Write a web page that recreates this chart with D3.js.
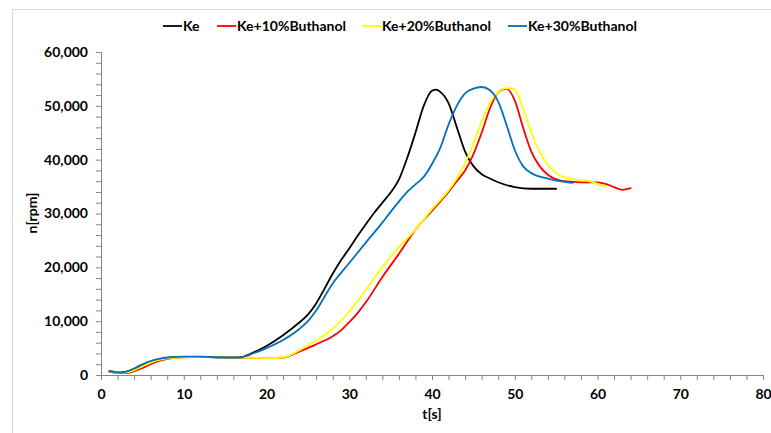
<!DOCTYPE html>
<html>
<head>
<meta charset="utf-8">
<script src="https://cdn.jsdelivr.net/npm/d3@7/dist/d3.min.js"></script>
<style>
html,body{margin:0;padding:0;background:#fff;}
svg{display:block;}
text{font-family:Lato,"Open Sans",sans-serif;font-weight:bold;fill:#000;}
</style>
</head>
<body>
<svg id="chart" width="771" height="433"></svg>
<script>
const seriesNames = ["Ke", "Ke+10%Buthanol", "Ke+20%Buthanol", "Ke+30%Buthanol"];
const seriesColors = ["#000000", "#ff0000", "#ffff00", "#0070c0"];

const keT = [1,2,3,4,5,6,7,8,10,12,14,16,17,18,20,22,24,25,26,27,28,29,30,31,32,33,34,35,36,37,38,39,40,40.5,41,42,43,44,45,46,47,48,50,52,55];
const keN = [700,500,600,1100,1800,2500,2900,3200,3350,3350,3300,3250,3300,3900,5400,7400,9800,11200,13300,16000,18800,21300,23500,25800,28000,30100,32000,33900,36300,40300,45000,50000,52800,53000,52600,50500,46000,41500,38800,37300,36500,35800,34900,34600,34600];

const b10T = [1,2,3,4,5,6,7,8,10,12,14,16,18,20,22,24,26,28,29,30,31,32,34,36,38,40,42,43,44,45,46,47,48,49,50,51,52,53,54,56,58,60,61,62,63,64];
const b10N = [600,400,350,700,1300,2000,2600,3000,3300,3350,3300,3250,3200,3150,3200,4400,5700,7200,8300,9800,11500,13500,18200,22500,27000,30500,34000,36000,38000,41000,45000,49500,52500,53200,51000,46000,41500,38800,37200,36000,35800,35800,35500,34900,34400,34700];

const b20T = [1,2,3,4,5,6,7,8,10,12,14,16,18,20,22,24,26,28,30,32,34,36,38,40,42,43,44,45,46,47,48,49,50,51,52,53,54,55,56,58,59,60,61];
const b20N = [650,450,450,900,1600,2300,2800,3100,3300,3350,3300,3250,3200,3150,3250,4600,6400,8600,11800,15800,20000,23800,27000,30800,34300,36500,39300,43000,47000,50500,52500,53300,53000,49500,45000,41500,39000,37500,36700,36200,36000,35500,35000];

const b30T = [1,2,2.5,3,4,5,6,7,8,10,12,14,16,17,18,20,22,24,25,26,28,30,32,34,35,36,37,38,39,40,41,42,43,44,45,46,47,48,49,50,51,52,54,56,57];
const b30N = [700,500,450,600,1200,2000,2600,3000,3250,3400,3400,3300,3250,3300,3800,5000,6500,8600,10000,12000,17000,20800,24600,28300,30300,32200,34000,35400,36800,39200,42200,46500,50000,52300,53200,53500,52900,50800,46500,41800,38800,37500,36500,35900,35700];

const xTicks = [0,10,20,30,40,50,60,70,80];
const yTicks = [0,10000,20000,30000,40000,50000,60000];

const seriesT = [keT, b10T, b20T, b30T];
const seriesN = [keN, b10N, b20N, b30N];

const svg = d3.select("#chart");

// chart area border
svg.append("rect").attr("x",12.5).attr("y",9.5).attr("width",770).attr("height",430)
  .attr("fill","#fff").attr("stroke","#d9d9d9").attr("stroke-width",1);

const x = d3.scaleLinear().domain([0,80]).range([101,763]);
const y = d3.scaleLinear().domain([0,60000]).range([375,52]);

const axisColor = "#868686";
const fmt = d3.format(",");

// minor ticks
const xMinor = d3.range(0,81,2);
const yMinor = d3.range(0,60001,2000);
const gx = svg.append("g").attr("transform",`translate(0,${y(0)})`);
gx.call(d3.axisBottom(x).tickValues(xMinor).tickSize(5).tickFormat(""));
const gxl = svg.append("g").attr("transform",`translate(0,${y(0)})`);
gxl.call(d3.axisBottom(x).tickValues(xTicks).tickSize(0).tickPadding(14).tickFormat(d3.format("d")));
gxl.select(".domain").remove();

const gy = svg.append("g").attr("transform",`translate(${x(0)},0)`);
gy.call(d3.axisLeft(y).tickValues(yMinor).tickSize(5).tickFormat(""));
const gyl = svg.append("g").attr("transform",`translate(${x(0)},0)`);
gyl.call(d3.axisLeft(y).tickValues(yTicks).tickSize(0).tickPadding(13).tickFormat(fmt));
gyl.select(".domain").remove();

[gx, gy].forEach(g => {
  g.selectAll(".domain").attr("stroke",axisColor).attr("stroke-width",1);
  g.selectAll(".tick line").attr("stroke",axisColor);
});
[gxl, gyl].forEach(g => {
  g.selectAll("text").attr("font-family","Lato, 'Open Sans', sans-serif").attr("font-weight","bold").attr("font-size",14).attr("fill","#000");
});

// lines
const line = d3.line().x(d => x(d[0])).y(d => y(d[1])).curve(d3.curveMonotoneX);
const drawOrder = [0,1,2,3];
drawOrder.forEach(i => {
  const data = seriesT[i].map((t,k) => [t, seriesN[i][k]]);
  svg.append("path").datum(data).attr("d", line)
    .attr("fill","none").attr("stroke",seriesColors[i]).attr("stroke-width",1.8)
    .attr("stroke-linejoin","round").attr("stroke-linecap","round");
});

// axis titles
svg.append("text").attr("x",432).attr("y",419).attr("text-anchor","middle")
  .attr("font-size",14).text("t[s]");
svg.append("text").attr("transform","translate(37,213) rotate(-90)").attr("text-anchor","middle")
  .attr("font-size",14).text("n[rpm]");

// legend
const legendX = [163, 217, 362, 508];
const lg = svg.append("g");
seriesNames.forEach((name,i) => {
  lg.append("line").attr("x1",legendX[i]).attr("x2",legendX[i]+19).attr("y1",26).attr("y2",26)
    .attr("stroke",seriesColors[i]).attr("stroke-width",1.8);
  lg.append("text").attr("x",legendX[i]+20).attr("y",31).attr("font-size",14).text(name);
});
</script>
</body>
</html>
